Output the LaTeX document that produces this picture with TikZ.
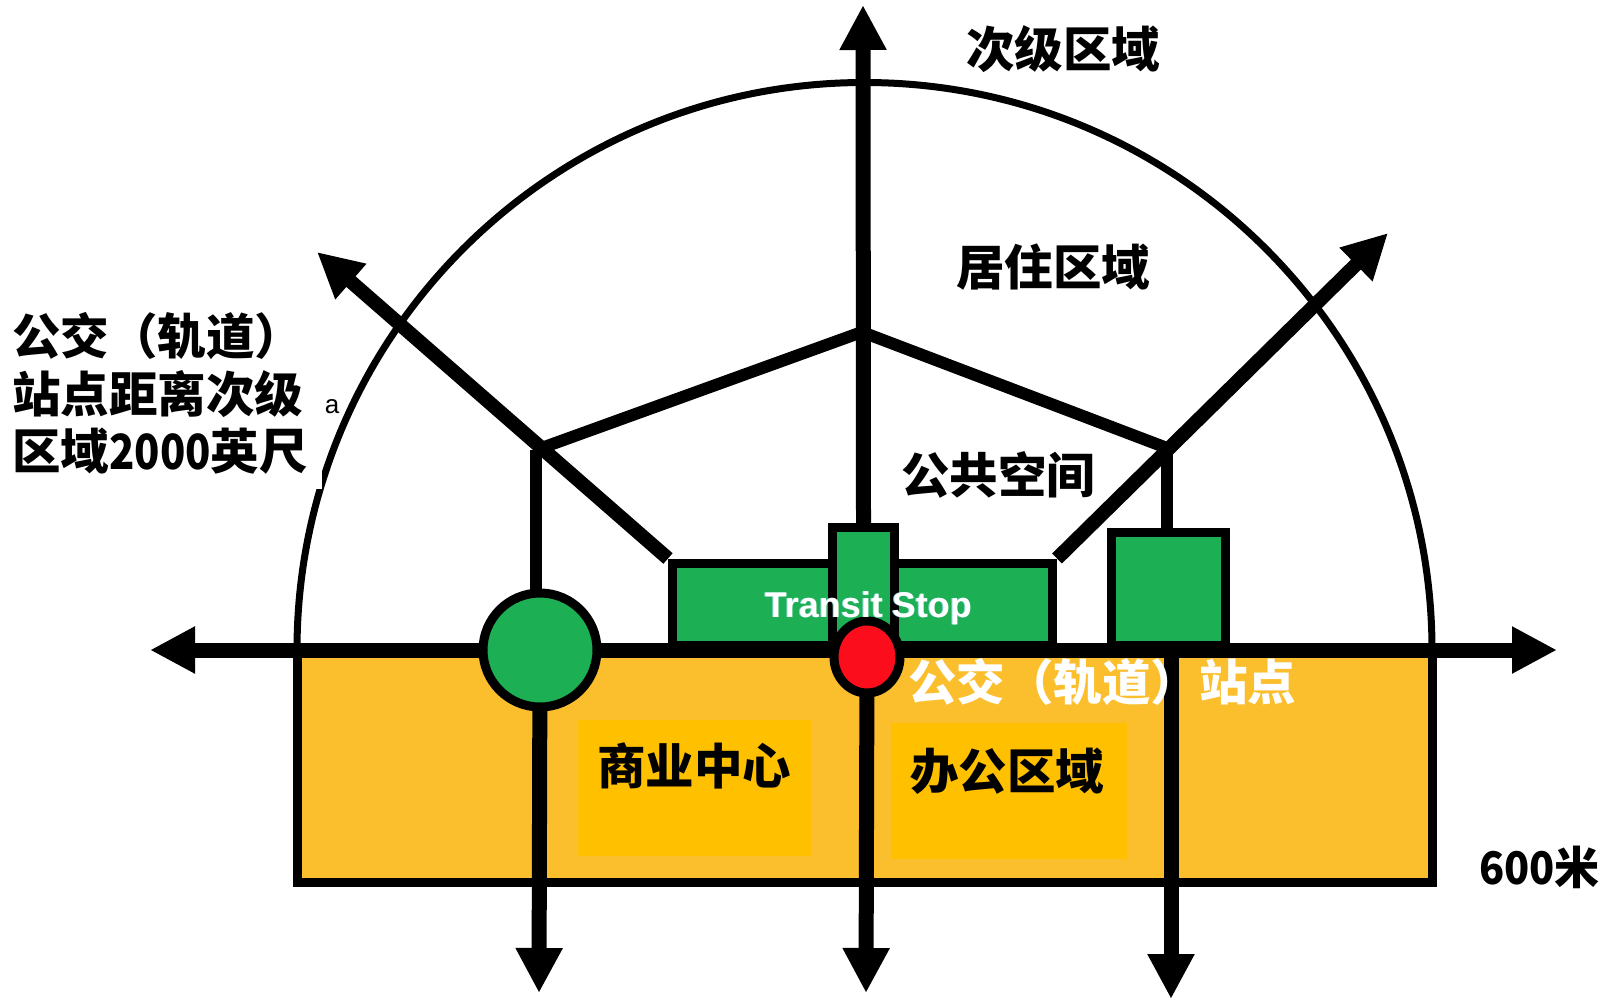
\documentclass[tikz,border=0pt]{standalone}
\usepackage{fontspec}
\usepackage{graphicx}
\newfontfamily\cjk{Noto Sans CJK SC}
\newfontfamily\lsans{Liberation Sans}
\usetikzlibrary{arrows.meta,shapes.geometric}
\pgfdeclarelayer{zone}
\pgfdeclarelayer{lines}
\pgfsetlayers{zone,lines,main}
\definecolor{zoneY}{RGB}{251,191,46}
\definecolor{boxY}{RGB}{255,192,0}
\definecolor{stopG}{RGB}{28,175,84}
\definecolor{stopR}{RGB}{252,13,28}
\definecolor{shadowC}{RGB}{150,215,225}
\begin{document}
\begin{tikzpicture}[x=1pt,y=-1pt,
  bigtip/.style={-{Triangle[length=45pt,width=44pt]}},
  thick15/.style={line width=15pt},
  thick14/.style={line width=14pt},
  thick12/.style={line width=12pt},
  gbox/.style={draw=black,line width=9pt,fill=stopG,rectangle,inner sep=0pt},
  lab/.style={font=\cjk\bfseries\fontsize{48.5}{55}\selectfont,inner sep=0pt,anchor=base},
  wlab/.style={lab,text=white}]
\useasboundingbox (0,0) rectangle (1605,1001);

% key points
\coordinate (axL) at (150,650);
\coordinate (axR) at (1557,650);
\coordinate (topTip) at (863,5);
\coordinate (nwTip) at (317,252);
\coordinate (neTip) at (1388,233);
\coordinate (L) at (536,450);
\coordinate (C) at (862,332);
\coordinate (R) at (1167,448);
\coordinate (bl) at (539,993);
\coordinate (bm) at (866,993);
\coordinate (br) at (1171,999);
\coordinate (brTop) at (1171,650);
\coordinate (arcL) at (297,650);

% yellow zone and boxes
\begin{pgfonlayer}{zone}
\fill[zoneY] (297,650) rectangle (1432,882);
\node[fill=boxY,minimum width=233pt,minimum height=136pt,inner sep=0pt] (shangye) at (694.5,788) {};
\node[fill=boxY,minimum width=236pt,minimum height=136pt,inner sep=0pt] (bangong) at (1009,791) {};
\draw[line width=9pt] (297,650) -- (297,882) -- (1432,882) -- (1432,650);
\draw[line width=7pt] (arcL) arc[start angle=180,end angle=360,radius=567.5];
\fill[white] (0,300) rectangle (322,489);
\end{pgfonlayer}

% rectangles and stops
\node[gbox,minimum width=380pt,minimum height=82pt] (mid) at (862.5,604) {};
\node[gbox,minimum width=62pt,minimum height=119pt] (tall) at (863.5,587) {};
\node[gbox,minimum width=114pt,minimum height=113pt] (rgt) at (1168.5,589) {};
\node[circle,draw=black,line width=9pt,fill=stopG,minimum size=114pt,inner sep=0pt] (gc) at (540,650) {};
\node[ellipse,draw=black,line width=9pt,fill=stopR,minimum width=66pt,minimum height=72pt,inner sep=0pt] (rc) at (867,657) {};

% connectors behind
\begin{pgfonlayer}{lines}
\draw[thick14,bigtip] (mid.north west) -- (nwTip);
\draw[thick14,bigtip] (mid.north east) -- (neTip);
\draw[thick12,line join=miter] (L) -- (C) -- (R);
\draw[thick12] (L) -- (L |- gc.center);
\draw[thick12] (R) -- (R |- rgt.north);
\draw[thick15,{Triangle[length=45pt,width=44pt]}-{Triangle[length=45pt,width=44pt]}] (axL) -- (axR);
\draw[thick15,bigtip] (tall.north) -- (topTip);
\draw[thick15,bigtip] (gc.center) -- (bl);
\draw[thick15,bigtip] (rc.center) -- (bm);
\draw[thick15,bigtip] (brTop) -- (br);
\end{pgfonlayer}

% texts
\node[lab] (t1) at (1063,67) {次级区域};
\node[lab] (t2) at (1053,285) {居住区域};
\node[lab] (t3) at (998,493) {公共空间};
\node[lab] (t4) at (694,784) {商业中心};
\node[lab] (t5) at (1007,789) {办公区域};
\node[lab,anchor=base east,font=\cjk\bfseries\fontsize{45}{50}\selectfont] (t6) at (1600,884) {\scalebox{0.92}[1]{600}米};
\node[wlab,anchor=base west] (t7) at (908,700) {公交（轨道）站点};
\node[lab,anchor=base west] (l1) at (12,354) {公交（轨道）};
\node[lab,anchor=base west] (l2) at (12,412) {站点距离次级};
\node[lab,anchor=base west] (l3) at (12,469) {区域\scalebox{0.86}[1]{2000}英尺};
\node[font=\lsans\fontsize{26}{30}\selectfont,inner sep=0pt,anchor=base] (ta) at (332,413) {a};
\node[font=\lsans\bfseries\fontsize{35.7}{40}\selectfont,text=shadowC,inner sep=0pt,anchor=base] at (868,617.5) {Transit Stop};
\node[font=\lsans\bfseries\fontsize{35.7}{40}\selectfont,text=white,inner sep=0pt,anchor=base] (ts) at (869,617) {Transit Stop};
\end{tikzpicture}
\end{document}
